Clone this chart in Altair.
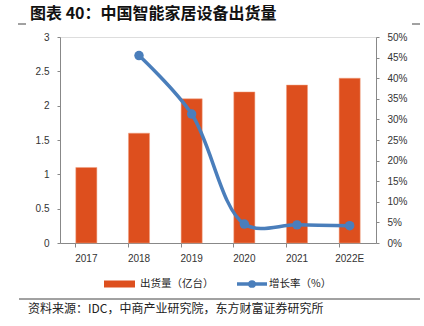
import altair as alt
import pandas as pd

years = ["2017", "2018", "2019", "2020", "2021", "2022E"]
shipments = [1.1, 1.6, 2.1, 2.2, 2.3, 2.4]
growth = [None, 0.455, 0.313, 0.046, 0.044, 0.042]

title_text = "图表 40：中国智能家居设备出货量"
legend_labels = ["出货量（亿台）", "增长率（%）"]
source_text = "资料来源：IDC，中商产业研究院，东方财富证券研究所"

BAR = "#DD4F1E"
LINE = "#4A7EBB"
FONT = "Noto Sans CJK SC"

df = pd.DataFrame({"year": years, "shipments": shipments, "growth": growth})

x = alt.X("year:N", sort=years, title=None,
          scale=alt.Scale(paddingInner=0.6, paddingOuter=0.3),
          axis=alt.Axis(labelAngle=0, labelFontSize=10, labelColor="#333",
                        domainColor="#888", tickColor="#888", tickSize=4,
                        bandPosition=0, labelPadding=6, labelFont="Liberation Sans"))

bars = alt.Chart(df).mark_bar(color=BAR, stroke="#F0A080", strokeWidth=0.5).encode(
    x=x,
    y=alt.Y("shipments:Q", title=None,
            scale=alt.Scale(domain=[0, 3], nice=False),
            axis=alt.Axis(values=[0, 0.5, 1, 1.5, 2, 2.5, 3], format="~g",
                          grid=False, labelFontSize=10, labelColor="#333",
                          domainColor="#888", tickColor="#888", tickSize=3,
                          labelPadding=8, labelFont="Liberation Sans")),
)

line_df = df.dropna()
line = alt.Chart(line_df).mark_line(
    color=LINE, strokeWidth=3.5, interpolate="catmull-rom",
    point=alt.OverlayMarkDef(color=LINE, size=90, filled=True, opacity=1),
).encode(
    x=alt.X("year:N", sort=years),
    y=alt.Y("growth:Q", title=None,
            scale=alt.Scale(domain=[0, 0.5], nice=False),
            axis=alt.Axis(orient="right", values=[i / 100 for i in range(0, 51, 5)],
                          format=".0%", grid=False, labelFontSize=10, labelColor="#333",
                          domainColor="#888", tickColor="#888", tickSize=3,
                          labelPadding=8, labelFont="Liberation Sans")),
)

main = alt.layer(bars, line).resolve_scale(y="independent")

one = pd.DataFrame({"a": [0]})

# legend
leg_bar = alt.Chart(one).mark_rule(color=BAR, strokeWidth=7).encode(
    x=alt.value(44), x2=alt.value(75), y=alt.value(247))
leg_line = alt.Chart(one).mark_rule(color=LINE, strokeWidth=3.5).encode(
    x=alt.value(177), x2=alt.value(207), y=alt.value(247))
leg_pt = alt.Chart(one).mark_point(color=LINE, filled=True, size=60, opacity=1).encode(
    x=alt.value(192), y=alt.value(247))
leg_t1 = alt.Chart(pd.DataFrame({"t": [legend_labels[0]]})).mark_text(
    align="left", baseline="middle", fontSize=10.5, font=FONT, color="#222").encode(
    x=alt.value(80), y=alt.value(247), text="t:N")
leg_t2 = alt.Chart(pd.DataFrame({"t": [legend_labels[1]]})).mark_text(
    align="left", baseline="middle", fontSize=10.5, font=FONT, color="#222").encode(
    x=alt.value(209), y=alt.value(247), text="t:N")

# title, source, separators
title = alt.Chart(pd.DataFrame({"t": [title_text]})).mark_text(
    align="left", baseline="middle", fontSize=16, fontWeight="bold", font=FONT, color="#111").encode(
    x=alt.value(-30), y=alt.value(-23), text="t:N")
source = alt.Chart(pd.DataFrame({"t": [source_text]})).mark_text(
    align="left", baseline="middle", fontSize=12, font=FONT, color="#222").encode(
    x=alt.value(-32), y=alt.value(272), text="t:N")
sep = alt.Chart(one).mark_rule(color="#444", strokeWidth=1).encode(
    x=alt.value(-41), x2=alt.value(360), y=alt.value(262))
dash1 = alt.Chart(one).mark_rule(color="#444", strokeWidth=1).encode(
    x=alt.value(-42), x2=alt.value(-34), y=alt.value(-13))
dash2 = alt.Chart(one).mark_rule(color="#444", strokeWidth=1).encode(
    x=alt.value(352), x2=alt.value(360), y=alt.value(-13))

chart = alt.layer(main, leg_bar, leg_line, leg_pt, leg_t1, leg_t2, title, source, sep, dash1, dash2).properties(
    width=316, height=206,
    autosize=alt.AutoSizeParams(type="none"),
    padding={"left": 60, "top": 37, "right": 48, "bottom": 83},
).configure_view(stroke=None).configure(background="white")

chart.save("out.html", embed_options={"renderer": "svg", "actions": False})
